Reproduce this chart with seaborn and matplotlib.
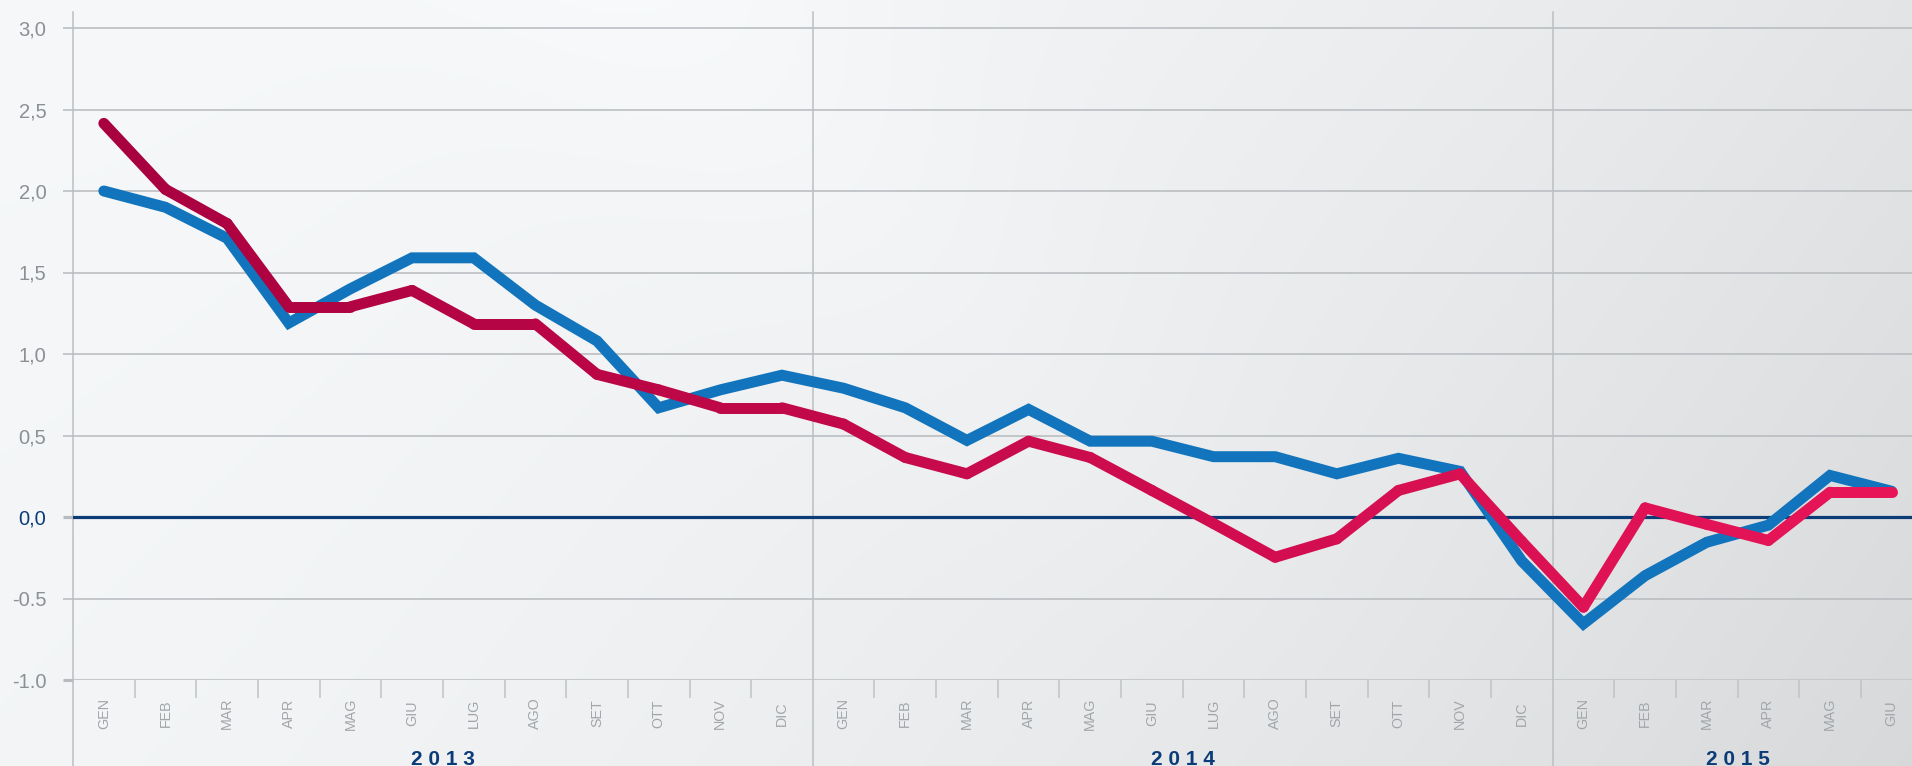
import numpy as np
import matplotlib
matplotlib.use("Agg")
import matplotlib.pyplot as plt
import matplotlib.transforms as mtransforms
import seaborn as sns

plt.rcParams['font.family'] = ['Liberation Sans', 'DejaVu Sans']

# ---------------- data ----------------
months = ["GEN", "FEB", "MAR", "APR", "MAG", "GIU", "LUG", "AGO", "SET", "OTT", "NOV", "DIC",
          "GEN", "FEB", "MAR", "APR", "MAG", "GIU", "LUG", "AGO", "SET", "OTT", "NOV", "DIC",
          "GEN", "FEB", "MAR", "APR", "MAG", "GIU"]
years = ["2 0 1 3", "2 0 1 4", "2 0 1 5"]
year_month_counts = [12, 12, 6]

blue_series = [2.00, 1.90, 1.71, 1.19, 1.40, 1.59, 1.59, 1.30, 1.08, 0.67, 0.78, 0.87,
               0.79, 0.67, 0.47, 0.66, 0.465, 0.465, 0.37, 0.37, 0.265, 0.36, 0.28, -0.27,
               -0.655, -0.36, -0.155, -0.05, 0.255, 0.158]
red_series = [2.415, 2.01, 1.80, 1.29, 1.29, 1.39, 1.185, 1.185, 0.875, 0.78, 0.67, 0.67,
              0.57, 0.365, 0.265, 0.465, 0.365, 0.163, -0.04, -0.247, -0.134, 0.163, 0.265, -0.15,
              -0.553, 0.056, -0.045, -0.144, 0.152, 0.152]

ytick_values = [-1.0, -0.5, 0.0, 0.5, 1.0, 1.5, 2.0, 2.5, 3.0]
ytick_labels = ["-1.0", "-0.5", "0,0", "0,5", "1,0", "1,5", "2,0", "2,5", "3,0"]

# ---------------- layout ----------------
W, H = 1912, 766
DPI = 100
fig = plt.figure(figsize=(W / DPI, H / DPI), dpi=DPI)

# background gradient
bg = fig.add_axes([0, 0, 1, 1])
gx = np.linspace(0, 1, 480)[None, :]
gy = np.linspace(0, 1, 192)[:, None]
val = 0.972 - 0.075 * gx ** 2 - 0.035 * gy * gx - 0.012 * gy
rays = 0.014 * np.exp(-((gx - 0.35 - 0.35 * gy) / 0.12) ** 2) * (1 - gy)
val = np.clip(val + rays, 0, 1)
img = np.dstack([val - 0.008, val, val + 0.006])
bg.imshow(np.clip(img, 0, 1), aspect='auto', extent=[0, 1, 0, 1], interpolation='bilinear')
bg.set_axis_off()

ax_left, ax_top, ax_bottom = 73, 12, 680
ax = fig.add_axes([ax_left / W, (H - ax_bottom) / H, (W - ax_left) / W, (ax_bottom - ax_top) / H])
ax.set_facecolor('none')
for s in ax.spines.values():
    s.set_visible(False)

n = len(months)
x = np.arange(n)
slot_px = 61.65
px_per_unit = 163.0

grid_col = '#b7babe'
navy = '#0c3c78'

# horizontal grid
for v in ytick_values:
    if v == 0.0:
        ax.axhline(v, color=navy, lw=2.3, zorder=2)
    elif v == -1.0:
        ax.axhline(v, color='#c6c9cc', lw=2.2, zorder=1)
    else:
        ax.axhline(v, color=grid_col, lw=1.1, zorder=1)

# vertical separators (left axis and year boundaries)
axes_h = ax_bottom - ax_top
ext = -(H - ax_bottom) / axes_h
bounds = [-0.5]
acc = -0.5
for c in year_month_counts[:-1]:
    acc += c
    bounds.append(acc)
for b in bounds:
    ax.axvline(b, ymin=ext, ymax=1, color='#bcbfc3', lw=1.1, clip_on=False, zorder=1)

# lines
LW = 7.9
sns.lineplot(x=x, y=blue_series, color='#1174bc', lw=LW, ax=ax,
             solid_capstyle='round', solid_joinstyle='miter', zorder=3)

c0 = np.array([168, 0, 63]) / 255.0
c1 = np.array([232, 21, 88]) / 255.0
for i in range(n - 1):
    t = (i + 0.5) / (n - 1)
    col = c0 + (c1 - c0) * t
    sns.lineplot(x=x[i:i + 2], y=red_series[i:i + 2], color=tuple(col), lw=LW, ax=ax,
                 solid_capstyle='round', solid_joinstyle='round', zorder=4)

ax.set_xlim(-0.5, -0.5 + (W - ax_left) / slot_px)
ax.set_ylim(-1.0, -1.0 + axes_h / px_per_unit)
ax.set_xlabel("")
ax.set_ylabel("")

# y ticks
ax.set_yticks(ytick_values)
ax.set_yticklabels(ytick_labels)
ax.tick_params(axis='y', length=7.2, width=1.1, color=grid_col, pad=12,
               labelsize=14.5, labelcolor='#8c9095')
for tk, v in zip(ax.yaxis.get_major_ticks(), ytick_values):
    if v == 0.0:
        tk.tick1line.set_color(navy)
        tk.tick1line.set_markeredgewidth(2.3)
        tk.label1.set_color(navy)
    elif v == -1.0:
        tk.tick1line.set_color('#c6c9cc')
        tk.tick1line.set_markeredgewidth(2.2)

# x ticks
ax.set_xticks(x)
ax.set_xticklabels(months)
minor = [i + 0.5 for i in range(n - 1) if (i + 0.5) not in bounds]
ax.set_xticks(minor, minor=True)
ax.tick_params(axis='x', which='major', length=0, pad=24, labelsize=10.3,
               labelcolor='#a2a6aa', labelrotation=90)
ax.tick_params(axis='x', which='minor', length=13, width=1.1, color='#c0c3c6')
for lab in ax.get_xticklabels():
    lab.set_va('center')

# year labels
trans = mtransforms.blended_transform_factory(ax.transData, fig.transFigure)
start = 0
for yl, c in zip(years, year_month_counts):
    center = start + (c - 1) / 2.0
    ax.text(center, (H - 765) / H, yl, transform=trans, ha='center', va='baseline',
            fontsize=15, fontweight='bold', color=navy, clip_on=False)
    start += c

fig.savefig("out.png", dpi=DPI)
